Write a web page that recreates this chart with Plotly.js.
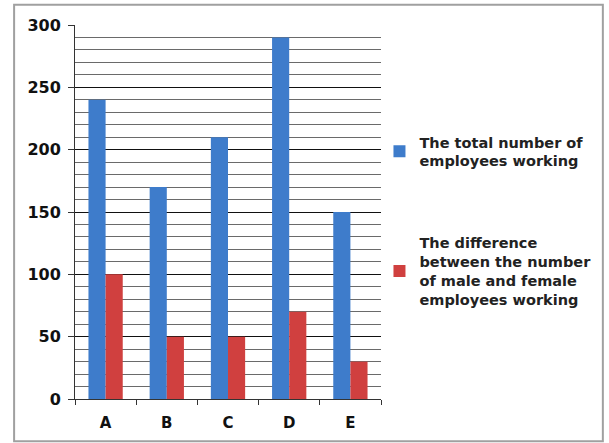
<!DOCTYPE html>
<html>
<head>
<meta charset="utf-8">
<script src="https://cdn.plot.ly/plotly-3.0.1.min.js"></script>
<style>html,body{margin:0;padding:0;background:#fff;}#chart{width:609px;height:443px;}</style>
</head>
<body>
<div id="chart"></div>
<script>
const categories = ["A", "B", "C", "D", "E"];
const totalEmployees = [240, 170, 210, 290, 150];
const maleFemaleDifference = [100, 50, 50, 70, 30];
const seriesNames = [
  "The total number of<br>employees working",
  "The difference<br>between the number<br>of male and female<br>employees working"
];
const yTicks = [0, 50, 100, 150, 200, 250, 300];

const font = {family: "DejaVu Sans, Verdana, sans-serif", size: 13, color: "#111"};

const traces = [
  {type: "bar", name: seriesNames[0], x: categories, y: totalEmployees,
   marker: {color: "#3E7CCB", line: {width: 0}}, legendgroup: "g1"},
  {type: "bar", name: seriesNames[1], x: categories, y: maleFemaleDifference,
   marker: {color: "#D0403F", line: {width: 0}}, legendgroup: "g2"}
];

const layout = {
  width: 609, height: 443,
  margin: {l: 75, r: 228, t: 25, b: 44},
  paper_bgcolor: "#ffffff", plot_bgcolor: "#ffffff",
  barmode: "group", bargap: 0.44, bargroupgap: 0,
  font: font,
  showlegend: true,
  legend: {x: 0.995, xanchor: "left", y: 0.73, yanchor: "top",
    font: {family: "DejaVu Sans, Verdana, sans-serif", size: 14.5, color: "#222", weight: "bold"},
    tracegroupgap: 60, itemwidth: 30, traceorder: "grouped", bgcolor: "rgba(0,0,0,0)"},
  xaxis: {type: "category", showgrid: false, showline: true, linecolor: "#333", linewidth: 1,
    ticks: "outside", tickson: "boundaries", ticklen: 5, tickcolor: "#333",
    ticklabelstandoff: 10,
    tickfont: {family: "DejaVu Sans, Verdana, sans-serif", size: 15, weight: "bold", color: "#111"},
    zeroline: false, fixedrange: true},
  yaxis: {range: [0, 300], tickvals: yTicks, ticktext: yTicks.map(String),
    showline: true, linecolor: "#333", linewidth: 1,
    ticks: "outside", ticklen: 6, tickcolor: "#333",
    ticklabelstandoff: 4,
    showgrid: true, gridcolor: "#111", gridwidth: 1,
    minor: {dtick: 10, showgrid: true, gridcolor: "#6a6a6a", gridwidth: 1, ticks: ""},
    zeroline: false,
    tickfont: {family: "DejaVu Sans, Verdana, sans-serif", size: 16, weight: "bold", color: "#111"},
    fixedrange: true},
  shapes: [{type: "rect", xref: "paper", yref: "paper",
    x0: -0.199, x1: 1.725, y0: -0.113, y1: 1.054,
    line: {color: "#a0a0a0", width: 2}, fillcolor: "rgba(0,0,0,0)", layer: "below"}]
};

Plotly.newPlot("chart", traces, layout, {displayModeBar: false, staticPlot: true});
</script>
</body>
</html>
